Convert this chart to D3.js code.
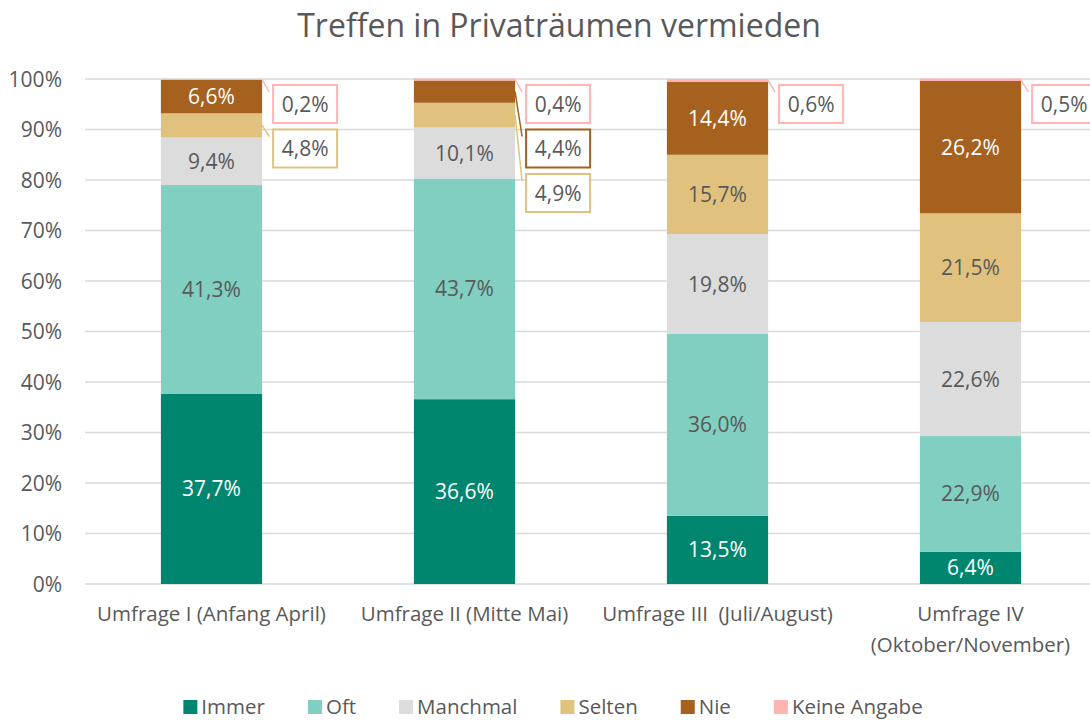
<!DOCTYPE html>
<html>
<head>
<meta charset="utf-8">
<script src="https://cdn.jsdelivr.net/npm/d3@7/dist/d3.min.js"></script>
<style>
  html, body { margin: 0; padding: 0; background: #fff; }
  svg { display: block; font-family: "Open Sans", "Noto Sans", sans-serif; }
</style>
</head>
<body>
<svg id="chart" width="1090" height="720"></svg>
<script>
// ---- data ----
const title = "Treffen in Privaträumen vermieden";
const categories = [
  ["Umfrage I (Anfang April)"],
  ["Umfrage II (Mitte Mai)"],
  ["Umfrage III  (Juli/August)"],
  ["Umfrage IV", "(Oktober/November)"]
];
const seriesNames = ["Immer", "Oft", "Manchmal", "Selten", "Nie", "Keine Angabe"];
const seriesColors = ["#00856F", "#80CFC0", "#DCDCDC", "#E0C27E", "#A5611D", "#FFB3B3"];
const labelColors = ["#FFFFFF", "#595959", "#595959", "#595959", "#FFFFFF", "#595959"];
const immer = [37.7, 36.6, 13.5, 6.4];
const oft = [41.3, 43.7, 36.0, 22.9];
const manchmal = [9.4, 10.1, 19.8, 22.6];
const selten = [4.8, 4.9, 15.7, 21.5];
const nie = [6.6, 4.4, 14.4, 26.2];
const keineAngabe = [0.2, 0.4, 0.6, 0.5];
const yTicks = [0, 10, 20, 30, 40, 50, 60, 70, 80, 90, 100];

const seriesValues = [immer, oft, manchmal, selten, nie, keineAngabe];
const rows = categories.map((c, i) => {
  const r = { idx: i };
  seriesNames.forEach((s, k) => r[s] = seriesValues[k][i]);
  return r;
});

const svg = d3.select("#chart");
const W = 1090, H = 720;
const fmt = v => v.toFixed(1).replace(".", ",") + "%";

const x = d3.scaleBand().domain(d3.range(categories.length)).range([85, 1097])
  .paddingInner(0.6).paddingOuter(0.3);
const y = d3.scaleLinear().domain([0, 100]).range([584, 79]);

// title
svg.append("text").attr("x", 559).attr("y", 37).attr("text-anchor", "middle")
  .attr("font-size", 32).attr("fill", "#595959").text(title);

// grid
svg.append("g").selectAll("line").data(yTicks).join("line")
  .attr("x1", 85).attr("x2", W).attr("y1", d => y(d)).attr("y2", d => y(d))
  .attr("stroke", "#D9D9D9").attr("stroke-width", 1.5);

// y tick labels
svg.append("g").selectAll("text").data(yTicks).join("text")
  .attr("x", 62).attr("y", d => y(d)).attr("dy", "0.36em").attr("text-anchor", "end")
  .attr("font-size", 21).attr("fill", "#595959").text(d => d + "%");

// stack
const stack = d3.stack().keys(seriesNames)(rows);

const layers = svg.append("g").selectAll("g").data(stack).join("g")
  .attr("fill", (d, k) => seriesColors[k]);
layers.selectAll("rect").data(d => d).join("rect")
  .attr("x", d => x(d.data.idx)).attr("width", x.bandwidth())
  .attr("y", d => y(d[1])).attr("height", d => y(d[0]) - y(d[1]));

// inside labels (value >= 5)
stack.forEach((layer, k) => {
  layer.forEach(d => {
    const val = seriesValues[k][d.data.idx];
    if (val >= 5) {
      svg.append("text")
        .attr("x", x(d.data.idx) + x.bandwidth() / 2)
        .attr("y", y((d[0] + d[1]) / 2)).attr("dy", "0.36em")
        .attr("text-anchor", "middle").attr("font-size", 21)
        .attr("fill", labelColors[k]).text(fmt(val));
    }
  });
});

// callouts for small values, ordered from top
categories.forEach((c, i) => {
  const small = [];
  stack.forEach((layer, k) => {
    const d = layer[i];
    const val = seriesValues[k][i];
    if (val < 5) small.push({ k, val, mid: (d[0] + d[1]) / 2 });
  });
  small.sort((a, b) => b.mid - a.mid);
  const bx = x(i) + x.bandwidth() + 11;
  small.forEach((s, j) => {
    const top = y(100) + 6 + j * 44.5;
    svg.append("line")
      .attr("x1", x(i) + x.bandwidth()).attr("y1", y(s.mid))
      .attr("x2", bx - 4).attr("y2", top + 7)
      .attr("stroke", seriesColors[s.k]).attr("stroke-width", 1.5);
    svg.append("rect").attr("x", bx).attr("y", top).attr("width", 64).attr("height", 38)
      .attr("fill", "#fff").attr("stroke", seriesColors[s.k])
      .attr("stroke-width", 2);
    svg.append("text").attr("x", bx + 32).attr("y", top + 19).attr("dy", "0.36em")
      .attr("text-anchor", "middle").attr("font-size", 21).attr("fill", "#595959")
      .text(fmt(s.val));
  });
});

// category labels
categories.forEach((lines, i) => {
  const t = svg.append("text").attr("text-anchor", "middle")
    .attr("font-size", 20.5).attr("fill", "#595959")
    .style("white-space", "pre");
  lines.forEach((ln, j) => {
    t.append("tspan").attr("x", x(i) + x.bandwidth() / 2).attr("y", 621 + j * 31).text(ln);
  });
});

// legend
const lg = svg.append("g");
const items = [];
seriesNames.forEach((s, k) => {
  const g = lg.append("g");
  g.append("rect").attr("x", 0).attr("y", -14).attr("width", 14).attr("height", 14)
    .attr("fill", seriesColors[k]);
  const t = g.append("text").attr("x", 18).attr("y", 0).attr("font-size", 20.5)
    .attr("fill", "#595959").text(s);
  const w = t.node().getComputedTextLength();
  items.push({ g, w });
});
let total = 0;
items.forEach((it, k) => { total += 18 + it.w + (k < items.length - 1 ? 43 : 0); });
let cx = 553 - total / 2;
items.forEach(it => {
  it.g.attr("transform", `translate(${cx},714)`);
  cx += 18 + it.w + 43;
});
</script>
</body>
</html>
